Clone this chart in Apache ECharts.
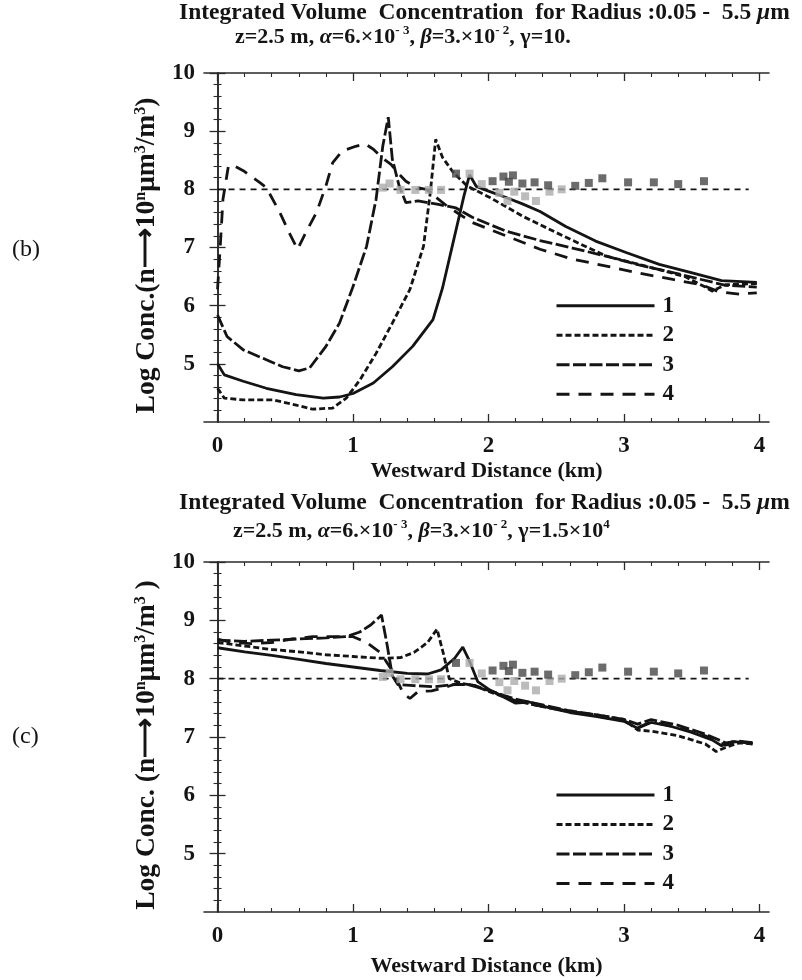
<!DOCTYPE html>
<html>
<head>
<meta charset="utf-8">
<script src="https://cdn.jsdelivr.net/npm/echarts@6/dist/echarts.min.js"></script>
<style>
html,body{margin:0;padding:0;background:#fff;}
#chart{width:802px;height:980px;}
</style>
</head>
<body>
<div id="chart"></div>
<script>
// ---------- tick labels ----------
const xTickLabels = [0, 1, 2, 3, 4];
const yTickLabels = [5, 6, 7, 8, 9, 10];
const xMinorTicks = [0.2,0.4,0.6,0.8,1.2,1.4,1.6,1.8,2.2,2.4,2.6,2.8,3.2,3.4,3.6,3.8];
const yMinorTicks = [4.2,4.4,4.6,4.8,5.2,5.4,5.6,5.8,6.2,6.4,6.6,6.8,7.2,7.4,7.6,7.8,8.2,8.4,8.6,8.8,9.2,9.4,9.6,9.8];
const seriesNames = ['1', '2', '3', '4'];

// ---------- panel (b) curves : [distance km, log conc] ----------
const b1 = [[0,5.0],[0.05,4.81],[0.19,4.70],[0.36,4.58],[0.58,4.47],[0.78,4.41],[0.9,4.43],[1.0,4.49],[1.15,4.67],[1.29,4.95],[1.44,5.30],[1.59,5.76],[1.66,6.3],[1.74,7.1],[1.82,7.9],[1.86,8.25],[1.91,8.05],[2.0,7.97],[2.13,7.86],[2.25,7.75],[2.38,7.62],[2.57,7.36],[2.79,7.11],[3.02,6.91],[3.26,6.71],[3.51,6.56],[3.72,6.43],[3.98,6.40]];
const b2 = [[0,4.58],[0.05,4.41],[0.19,4.38],[0.41,4.38],[0.58,4.29],[0.70,4.22],[0.85,4.24],[0.95,4.41],[1.05,4.72],[1.17,5.18],[1.29,5.70],[1.42,6.28],[1.52,7.02],[1.57,7.94],[1.61,8.86],[1.66,8.55],[1.74,8.29],[1.84,8.06],[2.01,7.86],[2.25,7.54],[2.55,7.20],[2.87,6.85],[3.16,6.68],[3.45,6.50],[3.6,6.32],[3.65,6.25],[3.75,6.36],[3.98,6.38]];
const b3 = [[0,5.84],[0.07,5.47],[0.19,5.24],[0.36,5.07],[0.48,4.95],[0.60,4.88],[0.68,4.93],[0.80,5.30],[0.90,5.70],[1.0,6.33],[1.10,7.02],[1.17,7.83],[1.22,8.75],[1.26,9.24],[1.29,8.52],[1.34,8.06],[1.39,7.77],[1.48,7.80],[1.63,7.74],[1.76,7.68],[1.88,7.52],[2.13,7.28],[2.38,7.12],[2.62,6.99],[2.87,6.85],[3.11,6.70],[3.36,6.57],[3.57,6.45],[3.75,6.35],[3.98,6.32]];
const b4 = [[0,6.28],[0.02,7.02],[0.04,7.83],[0.08,8.40],[0.11,8.42],[0.19,8.32],[0.31,8.12],[0.36,8.03],[0.46,7.60],[0.53,7.25],[0.59,6.97],[0.65,7.25],[0.73,7.60],[0.80,8.06],[0.85,8.46],[0.92,8.66],[1.02,8.74],[1.09,8.78],[1.15,8.69],[1.21,8.55],[1.28,8.43],[1.34,8.26],[1.39,8.14],[1.47,8.03],[1.54,8.0],[1.62,7.85],[1.70,7.70],[1.80,7.55],[1.88,7.43],[2.13,7.20],[2.38,6.97],[2.62,6.80],[2.87,6.68],[3.11,6.56],[3.36,6.45],[3.57,6.36],[3.70,6.24],[3.85,6.20],[3.98,6.22]];

// ---------- panel (c) curves ----------
const c1 = [[0,8.53],[0.2,8.46],[0.4,8.40],[0.6,8.33],[0.8,8.26],[1.0,8.20],[1.2,8.14],[1.4,8.09],[1.55,8.08],[1.65,8.15],[1.75,8.35],[1.81,8.54],[1.86,8.30],[1.92,7.95],[2.0,7.82],[2.1,7.70],[2.2,7.58],[2.3,7.60],[2.45,7.50],[2.6,7.42],[2.8,7.35],[3.0,7.27],[3.1,7.15],[3.2,7.25],[3.35,7.18],[3.5,7.08],[3.65,6.95],[3.72,6.85],[3.8,6.92],[3.95,6.90]];
const c2 = [[0,8.62],[0.2,8.56],[0.4,8.50],[0.6,8.46],[0.8,8.41],[1.0,8.38],[1.2,8.35],[1.35,8.36],[1.45,8.45],[1.55,8.62],[1.62,8.85],[1.67,8.40],[1.71,8.00],[1.8,7.92],[1.9,7.88],[2.0,7.78],[2.2,7.62],[2.4,7.52],[2.6,7.44],[2.8,7.38],[3.0,7.30],[3.1,7.12],[3.2,7.10],[3.4,7.02],[3.6,6.88],[3.68,6.75],[3.75,6.82],[3.85,6.90],[3.95,6.88]];
const c3 = [[0,8.66],[0.2,8.64],[0.4,8.66],[0.6,8.68],[0.8,8.70],[0.95,8.72],[1.05,8.80],[1.13,8.92],[1.21,9.09],[1.25,8.60],[1.29,8.05],[1.33,7.90],[1.45,7.88],[1.6,7.86],[1.75,7.90],[1.85,7.90],[2.0,7.80],[2.2,7.65],[2.4,7.55],[2.6,7.45],[2.8,7.38],[3.0,7.30],[3.1,7.22],[3.2,7.30],[3.4,7.20],[3.6,7.05],[3.75,6.90],[3.85,6.93],[3.95,6.90]];
const c4 = [[0,8.68],[0.1,8.62],[0.25,8.60],[0.4,8.62],[0.55,8.68],[0.7,8.72],[0.85,8.72],[1.0,8.72],[1.1,8.62],[1.2,8.45],[1.3,8.10],[1.37,7.75],[1.42,7.66],[1.48,7.78],[1.58,7.79],[1.68,7.85],[1.78,7.93],[1.9,7.88],[2.0,7.80],[2.2,7.62],[2.4,7.52],[2.6,7.44],[2.8,7.36],[3.0,7.28],[3.1,7.16],[3.2,7.26],[3.4,7.16],[3.6,7.02],[3.75,6.86],[3.85,6.92],[3.95,6.88]];

// ---------- measured points (squares) ----------
const measLight = [[1.22,8.03],[1.27,8.10],[1.35,7.99],[1.46,7.99],[1.56,7.99],[1.65,7.99],[1.86,8.27],[1.95,8.09],[2.08,7.94],[2.14,7.80],[2.19,7.96],[2.27,7.88],[2.35,7.80],[2.45,7.96],[2.54,8.0]];
const measDark = [[1.76,8.27],[2.03,8.14],[2.11,8.22],[2.18,8.24],[2.15,8.13],[2.25,8.10],[2.34,8.12],[2.44,8.07],[2.64,8.06],[2.74,8.11],[2.84,8.19],[3.03,8.12],[3.22,8.12],[3.40,8.09],[3.59,8.14]];
const refLine = [[0,8],[3.92,8]];

const panelCurves = [[b1,b2,b3,b4],[c1,c2,c3,c4]];
const dashTypes = ['solid', [6,3], [13,3.5], [13,9]];

const SERIF = '"Liberation Serif","Times New Roman",serif';
const INK = '#141414';

const grids = [
  {left: 204, top: 73, width: 565, height: 349},
  {left: 204, top: 562, width: 565, height: 350}
];

const xAxes = [], yAxes = [];
const yNames = [
  'Log Conc.(n\u27f610{s|n}\u03bcm{s|3}/m{s|3})',
  'Log Conc. (n\u27f610{s|n}\u03bcm{s|3}/m{s|3} )'
];
const xNameGaps = [38, 43];
const nameRich = {
  s: {fontSize: 16, fontWeight: 'bold', fontFamily: SERIF, color: INK, verticalAlign: 'top', lineHeight: 28}
};
for (let g = 0; g < 2; g++) {
  const lineStyle = {color: '#2a2a2a', width: 1.6};
  xAxes.push({type: 'value', gridIndex: g, position: 'bottom', min: -0.1, max: 4.07,
    axisLine: {show: true, lineStyle}, splitLine: {show: false},
    axisTick: {show: true, inside: true, length: 8, customValues: xTickLabels, lineStyle: {color: '#2a2a2a', width: 1.3}},
    axisLabel: {show: true, customValues: xTickLabels, margin: 13, fontFamily: SERIF, fontWeight: 'bold', fontSize: 23, color: INK},
    name: 'Westward Distance (km)', nameLocation: 'middle', nameGap: xNameGaps[g],
    nameTextStyle: {fontFamily: SERIF, fontWeight: 'bold', fontSize: 22, color: INK}
  });
  xAxes.push({type: 'value', gridIndex: g, position: 'bottom', min: -0.1, max: 4.07,
    axisLine: {show: false}, splitLine: {show: false}, axisLabel: {show: false},
    axisTick: {show: true, inside: true, length: 4, customValues: xMinorTicks, lineStyle: {color: '#2a2a2a', width: 1.1}}
  });
  xAxes.push({type: 'value', gridIndex: g, position: 'top', min: -0.1, max: 4.07,
    axisLine: {show: true, lineStyle}, splitLine: {show: false}, axisLabel: {show: false},
    axisTick: {show: true, inside: true, length: 8, customValues: xTickLabels, lineStyle: {color: '#2a2a2a', width: 1.3}}
  });
  xAxes.push({type: 'value', gridIndex: g, position: 'top', min: -0.1, max: 4.07,
    axisLine: {show: false}, splitLine: {show: false}, axisLabel: {show: false},
    axisTick: {show: true, inside: true, length: 4, customValues: xMinorTicks, lineStyle: {color: '#2a2a2a', width: 1.1}}
  });
  yAxes.push({type: 'value', gridIndex: g, position: 'left', min: 4, max: 10,
    axisLine: {show: true, lineStyle}, splitLine: {show: false},
    axisTick: {show: true, inside: true, length: 8, customValues: yTickLabels, lineStyle: {color: '#2a2a2a', width: 1.3}},
    axisLabel: {show: true, customValues: yTickLabels, margin: 9, fontFamily: SERIF, fontWeight: 'bold', fontSize: 23, color: INK},
    name: yNames[g], nameLocation: 'middle', nameGap: 38, nameRotate: 90,
    nameTextStyle: {fontFamily: SERIF, fontWeight: 'bold', fontSize: 27.5, color: INK, rich: nameRich, padding: [0, 16, 0, 0]}
  });
  yAxes.push({type: 'value', gridIndex: g, position: 'left', min: 4, max: 10,
    axisLine: {show: false}, splitLine: {show: false}, axisLabel: {show: false},
    axisTick: {show: true, inside: true, length: 4, customValues: yMinorTicks, lineStyle: {color: '#2a2a2a', width: 1.1}}
  });
  yAxes.push({type: 'value', gridIndex: g, position: 'right', min: 4, max: 10,
    axisLine: {show: true, lineStyle}, splitLine: {show: false}, axisLabel: {show: false},
    axisTick: {show: true, inside: true, length: 8, customValues: yTickLabels, lineStyle: {color: '#2a2a2a', width: 1.3}}
  });
  yAxes.push({type: 'value', gridIndex: g, position: 'right', min: 4, max: 10,
    axisLine: {show: false}, splitLine: {show: false}, axisLabel: {show: false},
    axisTick: {show: true, inside: true, length: 4, customValues: yMinorTicks, lineStyle: {color: '#2a2a2a', width: 1.1}}
  });
}

const series = [];
for (let g = 0; g < 2; g++) {
  const xi = g * 4, yi = g * 4;
  series.push({type: 'line', name: 'ref', xAxisIndex: xi, yAxisIndex: yi, data: refLine,
    symbol: 'none', silent: true, lineStyle: {color: INK, width: 1.6, type: [6, 5]}, z: 2});
  panelCurves[g].forEach((d, i) => {
    series.push({type: 'line', name: seriesNames[i], xAxisIndex: xi, yAxisIndex: yi, data: d,
      symbol: 'none', showSymbol: false, smooth: false,
      lineStyle: {color: INK, width: 2.8, type: dashTypes[i]}, itemStyle: {color: INK}, z: 3});
  });
  series.push({type: 'scatter', name: 'lightMeas', xAxisIndex: xi, yAxisIndex: yi, data: measLight,
    symbol: 'rect', symbolSize: 8, itemStyle: {color: '#ababab'}, z: 4});
  series.push({type: 'scatter', name: 'darkMeas', xAxisIndex: xi, yAxisIndex: yi, data: measDark,
    symbol: 'rect', symbolSize: 8, itemStyle: {color: '#474747'}, z: 4});
}

const legendBase = {
  orient: 'vertical', left: 555, padding: 0, itemWidth: 98, itemHeight: 14, itemGap: 6.5,
  data: seriesNames, selectedMode: false,
  itemStyle: {opacity: 0},
  lineStyle: {width: 3},
  textStyle: {fontFamily: SERIF, fontWeight: 'bold', fontSize: 23, color: INK, padding: [0, 0, 0, 3]}
};

const titleStyle = {fontFamily: SERIF, fontWeight: 'bold', fontSize: 22, color: INK};
const subRich = {
  s: {fontFamily: SERIF, fontWeight: 'bold', fontSize: 13, color: INK, verticalAlign: 'top', lineHeight: 26},
  g: {fontFamily: SERIF, fontWeight: 'bold', fontStyle: 'italic', fontSize: 22, color: INK, lineHeight: 26}
};
const subRich1 = {
  g: {fontFamily: SERIF, fontWeight: 'bold', fontStyle: 'italic', fontSize: 23.5, color: INK, lineHeight: 26}
};
const line1 = 'Integrated Volume  Concentration  for Radius :0.05 -  5.5 {g|\u03bc}m';
const sub1 = 'z=2.5 m, {g|\u03b1}=6.\u00d710{s|- 3}, {g|\u03b2}=3.\u00d710{s|- 2}, \u03b3=10.';
const sub2 = 'z=2.5 m, {g|\u03b1}=6.\u00d710{s|- 3}, {g|\u03b2}=3.\u00d710{s|- 2}, \u03b3=1.5\u00d710{s|4}';
const t1Style = {fontFamily: SERIF, fontWeight: 'bold', fontSize: 23.5, color: INK, lineHeight: 26, rich: subRich1};
const t2Style = Object.assign({rich: subRich, lineHeight: 26}, titleStyle);

const option = {
  backgroundColor: '#ffffff',
  animation: false,
  title: [
    {text: line1, left: 179, top: 0, padding: 0, textStyle: t1Style},
    {text: sub1, left: 235, top: 24, padding: 0, textStyle: t2Style},
    {text: line1, left: 179, top: 490, padding: 0, textStyle: t1Style},
    {text: sub2, left: 233, top: 518, padding: 0, textStyle: t2Style},
    {text: '(b)', left: 12, top: 238, padding: 0, textStyle: {fontFamily: SERIF, fontWeight: 'normal', fontSize: 24, color: INK}},
    {text: '(c)', left: 12, top: 725, padding: 0, textStyle: {fontFamily: SERIF, fontWeight: 'normal', fontSize: 24, color: INK}}
  ],
  legend: [
    Object.assign({}, legendBase, {top: 294.2}),
    Object.assign({}, legendBase, {top: 783.5})
  ],
  grid: grids,
  xAxis: xAxes,
  yAxis: yAxes,
  series: series
};

const chart = echarts.init(document.getElementById('chart'), null, {renderer: 'canvas'});
chart.setOption(option);
</script>
</body>
</html>
